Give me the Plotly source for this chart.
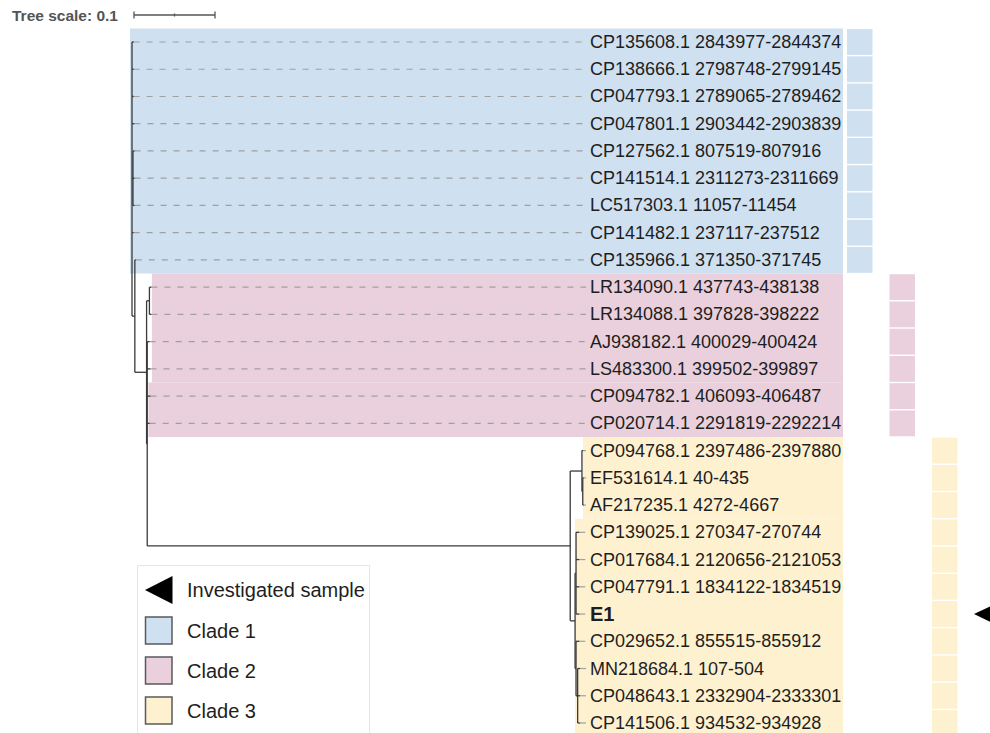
import plotly.graph_objects as go

# ---------------- data ----------------
leaf_names = [
    "CP135608.1 2843977-2844374", "CP138666.1 2798748-2799145",
    "CP047793.1 2789065-2789462", "CP047801.1 2903442-2903839",
    "CP127562.1 807519-807916", "CP141514.1 2311273-2311669",
    "LC517303.1 11057-11454", "CP141482.1 237117-237512",
    "CP135966.1 371350-371745",
    "LR134090.1 437743-438138", "LR134088.1 397828-398222",
    "AJ938182.1 400029-400424", "LS483300.1 399502-399897",
    "CP094782.1 406093-406487", "CP020714.1 2291819-2292214",
    "CP094768.1 2397486-2397880", "EF531614.1 40-435",
    "AF217235.1 4272-4667", "CP139025.1 270347-270744",
    "CP017684.1 2120656-2121053", "CP047791.1 1834122-1834519",
    "E1", "CP029652.1 855515-855912", "MN218684.1 107-504",
    "CP048643.1 2332904-2333301", "CP141506.1 934532-934928",
]
leaf_clade = [1] * 9 + [2] * 6 + [3] * 11
investigated = ["E1"]

# tree edges: (node, parent, branch length); children ordered as listed
tree_edges = [
    ("R", None, 0.0),
    ("CP135608.1 2843977-2844374", "R", 0.002),
    ("CP138666.1 2798748-2799145", "R", 0.002),
    ("CP047793.1 2789065-2789462", "R", 0.002),
    ("CP047801.1 2903442-2903839", "R", 0.003),
    ("S1", "R", 0.0012),
    ("CP127562.1 807519-807916", "S1", 0.002),
    ("CP141514.1 2311273-2311669", "S1", 0.002),
    ("LC517303.1 11057-11454", "S1", 0.002),
    ("CP141482.1 237117-237512", "R", 0.002),
    ("P", "R", 0.0035),
    ("CP135966.1 371350-371745", "P", 0.0012),
    ("Q", "P", 0.0145),
    ("A", "Q", 0.0035),
    ("LR134090.1 437743-438138", "A", 0.0025),
    ("LR134088.1 397828-398222", "A", 0.0025),
    ("B", "Q", 0.0008),
    ("AJ938182.1 400029-400424", "B", 0.003),
    ("LS483300.1 399502-399897", "B", 0.004),
    ("CP094782.1 406093-406487", "B", 0.004),
    ("CP020714.1 2291819-2292214", "B", 0.003),
    ("Q3", "B", 0.5222),
    ("G1", "Q3", 0.0145),
    ("CP094768.1 2397486-2397880", "G1", 0.0015),
    ("G1b", "G1", 0.001),
    ("EF531614.1 40-435", "G1b", 0.0012),
    ("AF217235.1 4272-4667", "G1b", 0.0012),
    ("G2", "Q3", 0.006),
    ("G2a", "G2", 0.0012),
    ("CP139025.1 270347-270744", "G2a", 0.004),
    ("CP017684.1 2120656-2121053", "G2a", 0.004),
    ("CP047791.1 1834122-1834519", "G2a", 0.004),
    ("E1", "G2a", 0.004),
    ("G2b", "G2", 0.0012),
    ("CP029652.1 855515-855912", "G2b", 0.004),
    ("G2c", "G2b", 0.002),
    ("MN218684.1 107-504", "G2c", 0.003),
    ("CP048643.1 2332904-2333301", "G2c", 0.003),
    ("CP141506.1 934532-934928", "G2c", 0.003),
]

# clade ranges: (first row, last row, anchor node, clade)
clade_ranges = [(0, 8, "R", 1), (9, 12, "A", 2), (13, 14, "B", 2),
                (15, 17, "G1", 3), (18, 25, "G2", 3)]
clade_colors = {1: "#cfe0f1", 2: "#e9d0dc", 3: "#fef1d0"}
legend_labels = ["Investigated sample", "Clade 1", "Clade 2", "Clade 3"]
tree_scale = 0.1

# ---------------- geometry helpers ----------------
W, H = 990, 733
PXU = 810.0                   # pixels per tree unit
ROOT_PX = 132.0
ROW_PX, ROW0 = 27.24, 42.0
X_RANGE = [-ROOT_PX / PXU, (W - ROOT_PX) / PXU]
Y_RANGE = [(H - ROW0) / ROW_PX, -ROW0 / ROW_PX]


def px2x(px):
    return (px - ROOT_PX) / PXU


def py2y(py):
    return (py - ROW0) / ROW_PX


# ---------------- layout tree ----------------
children, blen, parent = {}, {}, {}
for n, p, l in tree_edges:
    blen[n] = l
    parent[n] = p
    children.setdefault(n, [])
    if p is not None:
        children.setdefault(p, []).append(n)

xpos, ypos = {}, {}


def place(n, x0):
    xpos[n] = x0 + blen[n]
    if not children[n]:
        ypos[n] = leaf_names.index(n)
    else:
        for c in children[n]:
            place(c, xpos[n])
        ypos[n] = (ypos[children[n][0]] + ypos[children[n][-1]]) / 2


place("R", 0.0)

tx, ty = [], []
for n in xpos:
    p = parent[n]
    if p is not None:
        tx += [xpos[p], xpos[n], None]
        ty += [ypos[n], ypos[n], None]
    if children[n]:
        tx += [xpos[n], xpos[n], None]
        ty += [ypos[children[n][0]], ypos[children[n][-1]], None]

lx, ly = [], []
label_x = px2x(586)
for i, name in enumerate(leaf_names):
    lx += [xpos[name], label_x, None]
    ly += [i, i, None]

fig = go.Figure()
shapes = []

# clade background ranges
for r0, r1, node, cl in clade_ranges:
    pad = {"R": -2, "A": 2.5, "B": 1.2, "G1": 1, "G2": 0}[node] / PXU
    shapes.append(dict(type="rect", xref="x", yref="y", layer="below",
                       x0=xpos[node] + pad, x1=px2x(843), y0=r0 - 0.5, y1=r1 + 0.5,
                       fillcolor=clade_colors[cl], line=dict(width=0)))

# colour strip columns
strip_px = {1: 847, 2: 889.5, 3: 932}
gap = 0.7 / ROW_PX
for i, cl in enumerate(leaf_clade):
    shapes.append(dict(type="rect", xref="x", yref="y", layer="below",
                       x0=px2x(strip_px[cl]), x1=px2x(strip_px[cl] + 25.5),
                       y0=i - 0.5 + gap, y1=i + 0.5 - gap,
                       fillcolor=clade_colors[cl], line=dict(width=0)))

# investigated sample arrow
for name in investigated:
    r = leaf_names.index(name)
    shapes.append(dict(type="path", xref="x", yref="y",
                       path=f"M {px2x(974)},{r} L {px2x(996)},{r - 10.5 / ROW_PX} "
                            f"L {px2x(996)},{r + 10.5 / ROW_PX} Z",
                       fillcolor="black", line=dict(width=0)))

# legend box
shapes.append(dict(type="rect", xref="x", yref="y",
                   x0=px2x(137.5), x1=px2x(369.5), y0=py2y(565.5), y1=py2y(760),
                   fillcolor="white", line=dict(color="#e6e6e6", width=1)))
leg_y = [590, 630.5, 670.5, 710.5]
shapes.append(dict(type="path", xref="x", yref="y",
                   path=f"M {px2x(145)},{py2y(leg_y[0])} L {px2x(172.5)},{py2y(leg_y[0] - 14)} "
                        f"L {px2x(172.5)},{py2y(leg_y[0] + 14)} Z",
                   fillcolor="black", line=dict(width=0)))
for k in range(1, 4):
    shapes.append(dict(type="rect", xref="x", yref="y",
                       x0=px2x(145.5), x1=px2x(172), y0=py2y(leg_y[k] - 13.5), y1=py2y(leg_y[k] + 13.5),
                       fillcolor=clade_colors[k], line=dict(color="#5a5a5a", width=1.5)))

# tree-scale bar
sx0 = px2x(134)
sy = py2y(15)
sbx = [sx0, sx0 + tree_scale, None, sx0, sx0, None, sx0 + tree_scale, sx0 + tree_scale, None,
       sx0 + tree_scale / 2, sx0 + tree_scale / 2]
sby = [sy, sy, None, py2y(11.5), py2y(18.5), None, py2y(11.5), py2y(18.5), None,
       py2y(13.5), py2y(16.5)]

fig.add_trace(go.Scatter(x=lx, y=ly, mode="lines", hoverinfo="skip",
                         line=dict(color="#a0a0a0", width=1.2, dash="6px,7px")))
fig.add_trace(go.Scatter(x=tx, y=ty, mode="lines", hoverinfo="skip",
                         line=dict(color="#3a3a3a", width=1.3)))
fig.add_trace(go.Scatter(x=sbx, y=sby, mode="lines", hoverinfo="skip",
                         line=dict(color="#555555", width=1.3)))

FONT = "Liberation Sans, Arial, sans-serif"
ann = []
for i, name in enumerate(leaf_names):
    bold = name in investigated
    ann.append(dict(x=px2x(588), y=i, xref="x", yref="y", showarrow=False,
                    xanchor="left", yanchor="middle",
                    text=f"<b>{name}</b>" if bold else name,
                    font=dict(family=FONT, size=20 if bold else 18, color="#1e1e1e")))
for k, lab in enumerate(legend_labels):
    ann.append(dict(x=px2x(185), y=py2y(leg_y[k]), xref="x", yref="y", showarrow=False,
                    xanchor="left", yanchor="middle", text=lab,
                    font=dict(family=FONT, size=20, color="#1e1e1e")))
ann.append(dict(x=px2x(120), y=py2y(15.5), xref="x", yref="y", showarrow=False,
                xanchor="right", yanchor="middle", text=f"<b>Tree scale: {tree_scale}</b>",
                font=dict(family=FONT, size=15.5, color="#555555")))

fig.update_layout(
    width=W, height=H, margin=dict(l=0, r=0, t=0, b=0),
    paper_bgcolor="white", plot_bgcolor="white", showlegend=False,
    xaxis=dict(range=X_RANGE, visible=False, fixedrange=True),
    yaxis=dict(range=Y_RANGE, visible=False, fixedrange=True),
    shapes=shapes, annotations=ann,
)
fig.write_html(
    "out.html",
    config={"displayModeBar": False},
    post_script="document.body.style.margin='0';document.body.style.overflow='hidden';",
)
